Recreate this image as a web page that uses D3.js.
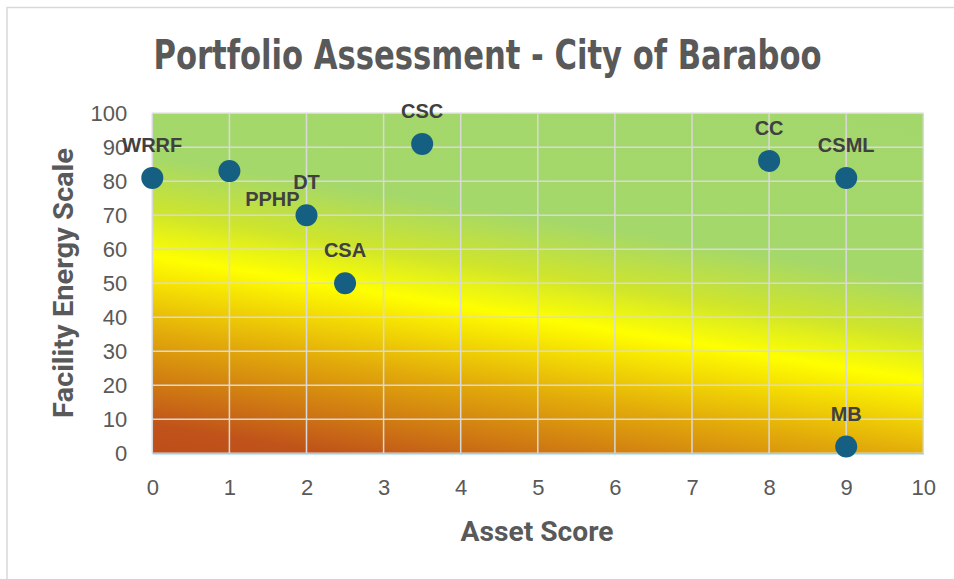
<!DOCTYPE html>
<html>
<head>
<meta charset="utf-8">
<script src="https://cdn.jsdelivr.net/npm/d3@7"></script>
<style>
  html, body { margin: 0; padding: 0; background: #ffffff; }
  svg { display: block; }
</style>
</head>
<body>
<svg id="chart" width="954" height="579"></svg>
<script>
// ---- data ----
const names       = ["WRRF", "PPHP", "DT", "CSA", "CSC", "CC", "CSML", "MB"];
const assetScore  = [0, 1, 2, 2.5, 3.5, 8, 9, 9];
const energyScale = [81, 83, 70, 50, 91, 86, 81, 2];
const xTicks = [0, 1, 2, 3, 4, 5, 6, 7, 8, 9, 10];
const yTicks = [0, 10, 20, 30, 40, 50, 60, 70, 80, 90, 100];
const titleText  = "Portfolio Assessment - City of Baraboo";
const xTitleText = "Asset Score";
const yTitleText = "Facility Energy Scale";

// label nudges (style only)
const labelNudge = { PPHP: [43, 61] };

(function () {
const svg = d3.select("#chart");
const pLeft = 152.3, pRight = 923.3, pTop = 113.3, pBottom = 453.3;
const x = d3.scaleLinear().domain([0, 10]).range([pLeft, pRight]);
const y = d3.scaleLinear().domain([0, 100]).range([pBottom, pTop]);

// chart border
svg.append("rect")
  .attr("x", 7).attr("y", 7.5).attr("width", 960).attr("height", 590)
  .attr("fill", "#ffffff").attr("stroke", "#d9d9d9").attr("stroke-width", 1.5);

// gradient background
const defs = svg.append("defs");
const ux = 0.159, uy = -0.987;
const p0 = [pLeft, pBottom];
const len = 458;
const grad = defs.append("linearGradient")
  .attr("id", "bg").attr("gradientUnits", "userSpaceOnUse")
  .attr("x1", p0[0]).attr("y1", p0[1])
  .attr("x2", p0[0] + ux * len).attr("y2", p0[1] + uy * len);
[[0.0, "#bd4e1a"], [0.06, "#c0521a"], [0.26, "#e2aa0a"], [0.425, "#ffff00"],
 [0.52, "#cfe52c"], [0.64, "#a5d86a"], [1.0, "#a3d76c"]].forEach(s => {
  grad.append("stop").attr("offset", s[0]).attr("stop-color", s[1]);
});
svg.append("rect")
  .attr("x", pLeft).attr("y", pTop).attr("width", pRight - pLeft).attr("height", pBottom - pTop)
  .attr("fill", "url(#bg)");

// gridlines
const grid = svg.append("g");
grid.selectAll("line.v").data(xTicks).enter().append("line")
  .attr("x1", d => x(d)).attr("x2", d => x(d))
  .attr("y1", pTop).attr("y2", pBottom)
  .attr("stroke", "#d9d9d9").attr("stroke-width", 1.5);
grid.selectAll("line.h").data(yTicks).enter().append("line")
  .attr("x1", pLeft).attr("x2", pRight)
  .attr("y1", d => y(d)).attr("y2", d => y(d))
  .attr("stroke", "#d9d9d9").attr("stroke-width", 1.5);

// axes
const xAxis = svg.append("g").attr("transform", `translate(0,${pBottom})`)
  .call(d3.axisBottom(x).tickValues(xTicks).tickSize(0).tickPadding(26).tickFormat(d3.format("d")));
xAxis.select(".domain").attr("stroke", "#8fd1ef").attr("stroke-width", 1.5);
xAxis.selectAll("text").attr("font-family", "Liberation Sans, Arial, sans-serif")
  .attr("font-size", 22).attr("fill", "#595959");

const yAxis = svg.append("g").attr("transform", `translate(${pLeft},0)`)
  .call(d3.axisLeft(y).tickValues(yTicks).tickSize(0).tickPadding(25).tickFormat(d3.format("d")));
yAxis.select(".domain").remove();
yAxis.selectAll("text").attr("font-family", "Liberation Sans, Arial, sans-serif")
  .attr("font-size", 22).attr("fill", "#595959");

// points
const pts = names.map((n, i) => ({ name: n, ax: assetScore[i], ey: energyScale[i] }));
svg.append("g").selectAll("circle").data(pts).enter().append("circle")
  .attr("cx", d => x(d.ax)).attr("cy", d => y(d.ey)).attr("r", 11)
  .attr("fill", "#156082");

// labels
svg.append("g").selectAll("text").data(pts).enter().append("text")
  .attr("x", d => x(d.ax) + (labelNudge[d.name] ? labelNudge[d.name][0] : 0))
  .attr("y", d => y(d.ey) - 26 + (labelNudge[d.name] ? labelNudge[d.name][1] : 0))
  .attr("text-anchor", "middle")
  .attr("font-family", "Liberation Sans, Arial, sans-serif")
  .attr("font-weight", "bold").attr("font-size", 20).attr("fill", "#404040")
  .text(d => d.name);

// title
svg.append("text")
  .attr("x", 487.5).attr("y", 69)
  .attr("text-anchor", "middle")
  .attr("font-family", "Liberation Sans Narrow, DejaVu Sans Condensed, Arial Narrow, sans-serif")
  .attr("font-weight", "bold").attr("font-size", 40).attr("fill", "#595959")
  .attr("textLength", 668).attr("lengthAdjust", "spacingAndGlyphs")
  .text(titleText);

// axis titles
svg.append("text")
  .attr("x", 537).attr("y", 540.5)
  .attr("text-anchor", "middle")
  .attr("font-family", "Roboto, Liberation Sans, sans-serif")
  .attr("font-weight", "bold").attr("font-size", 28).attr("fill", "#595959")
  .attr("textLength", 153).attr("lengthAdjust", "spacingAndGlyphs")
  .text(xTitleText);

svg.append("text")
  .attr("transform", "translate(73,283) rotate(-90)")
  .attr("text-anchor", "middle")
  .attr("font-family", "Roboto, Liberation Sans, sans-serif")
  .attr("font-weight", "bold").attr("font-size", 27).attr("fill", "#595959")
  .attr("textLength", 270).attr("lengthAdjust", "spacingAndGlyphs")
  .text(yTitleText);
})();
</script>
</body>
</html>
